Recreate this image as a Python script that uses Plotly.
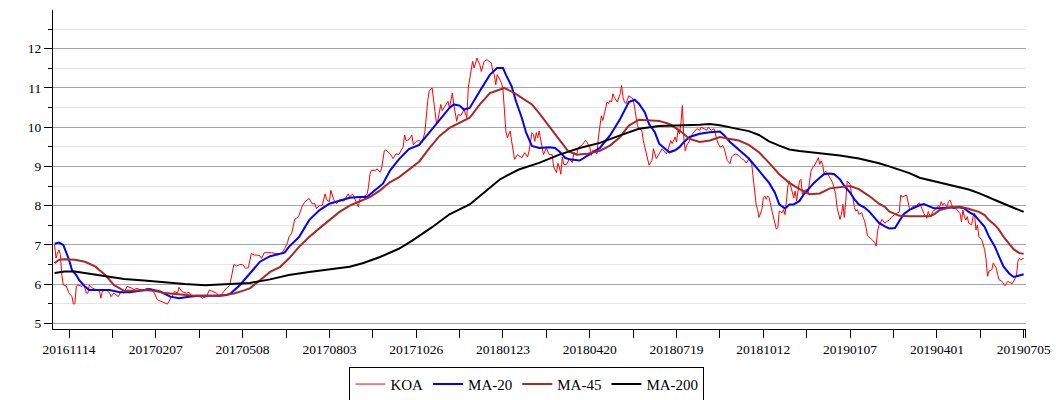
import plotly.graph_objects as go

# ---------------- data (trading-day index, value) ----------------
koa_day = [0, 1, 2, 3, 4, 5, 6, 8, 10, 12, 13, 14, 15, 16, 19, 20, 21, 22, 23, 24, 26, 29, 31, 32, 33, 36, 38, 39, 41, 44,
           46, 48, 50, 53, 55, 57, 59, 62, 64, 67, 69, 71, 74, 76, 78, 81, 83, 85, 86, 88, 91, 93, 95, 98, 100, 102, 105, 107, 109, 112,
           114, 116, 119, 121, 123, 124, 126, 128, 130, 132, 134, 136, 138, 140, 142, 143, 145, 148, 150, 153, 157, 159, 161, 162, 164, 166, 168, 169, 171, 173,
           175, 176, 178, 180, 181, 183, 185, 187, 188, 190, 191, 192, 193, 195, 197, 199, 200, 203, 204, 206, 209, 210, 211, 213, 214, 216, 217, 218, 219, 222,
           223, 225, 226, 228, 229, 232, 234, 236, 238, 241, 242, 243, 245, 247, 248, 250, 252, 254, 256, 257, 258, 259, 261, 263, 264, 265, 267, 268, 271, 272,
           273, 275, 276, 278, 279, 281, 283, 285, 286, 287, 288, 289, 290, 292, 294, 295, 297, 299, 302, 303, 304, 305, 306, 309, 310, 311, 312, 313, 315, 316,
           317, 318, 320, 323, 325, 327, 328, 330, 331, 332, 333, 334, 335, 337, 338, 340, 342, 344, 345, 347, 348, 349, 350, 351, 352, 354, 356, 357, 358, 359,
           361, 362, 365, 367, 368, 370, 371, 372, 375, 376, 377, 378, 379, 380, 382, 383, 384, 385, 386, 387, 388, 389, 391, 392, 393, 394, 395, 397, 400, 401,
           403, 404, 406, 407, 408, 409, 411, 413, 414, 416, 418, 420, 423, 424, 426, 427, 429, 430, 431, 432, 433, 434, 435, 436, 437, 439, 441, 444, 446, 447,
           449, 451, 452, 454, 456, 458, 460, 462, 463, 464, 465, 467, 468, 469, 471, 473, 475, 477, 478, 479, 480, 482, 483, 484, 485, 486, 487, 489, 490, 491,
           492, 493, 494, 496, 497, 498, 499, 500, 501, 503, 504, 505, 506, 507, 508, 510, 511, 512, 513, 515, 516, 517, 518, 520, 521, 522, 523, 524, 525, 527,
           528, 529, 530, 531, 532, 533, 534, 536, 538, 540, 541, 543, 544, 545, 546, 547, 548, 550, 551, 552, 553, 554, 555, 556, 558, 559, 560, 561, 562, 565,
           567, 568, 569, 570, 572, 574, 575, 577, 579, 582, 584, 585, 586, 589, 590, 591, 592, 593, 596, 598, 600, 601, 603, 604, 605, 606, 607, 610, 611, 612,
           613, 614, 615, 617, 618, 619, 620, 621, 623, 626, 627, 628, 629, 630, 631, 632, 634, 635, 636, 637, 638, 639, 641, 642, 643, 644, 645, 646, 648, 649,
           650, 651, 652, 653, 655, 657, 659, 662, 663, 665, 666, 667, 668, 670]
koa_val = [7.00, 6.66, 6.79, 6.87, 6.75, 6.23, 5.98, 5.95, 5.77, 5.68, 5.49, 5.50, 5.94, 5.98, 5.94, 5.98, 5.90, 5.77, 5.77, 5.98, 5.90, 5.86, 5.82, 5.64, 5.82, 5.85, 5.77, 5.68, 5.77, 5.68,
           5.81, 5.77, 5.94, 5.90, 5.86, 5.89, 5.86, 5.86, 5.89, 5.87, 5.77, 5.60, 5.56, 5.53, 5.49, 5.68, 5.81, 5.77, 5.92, 5.81, 5.77, 5.79, 5.68, 5.72, 5.70, 5.64, 5.68, 5.85, 5.81, 5.77,
           5.68, 5.77, 5.90, 5.96, 6.28, 6.50, 6.46, 6.50, 6.50, 6.40, 6.42, 6.78, 6.74, 6.74, 6.72, 6.65, 6.80, 6.80, 6.80, 6.78, 6.78, 6.90, 7.05, 7.20, 7.30, 7.65, 7.70, 7.75, 7.97, 8.10,
           8.15, 8.18, 8.05, 8.05, 7.92, 8.00, 8.00, 8.30, 8.15, 8.10, 8.39, 8.27, 8.15, 8.05, 8.15, 8.12, 8.12, 8.30, 8.22, 8.30, 8.05, 7.97, 8.18, 8.22, 8.22, 8.28, 8.47, 8.80, 8.90, 8.90,
           8.94, 8.85, 8.94, 9.40, 9.42, 9.32, 9.20, 9.32, 9.30, 9.50, 9.80, 9.66, 9.68, 9.80, 9.55, 9.64, 9.66, 9.60, 9.87, 10.40, 10.68, 10.92, 11.00, 10.40, 10.10, 10.18, 10.58, 10.42, 10.58, 10.66,
           10.49, 10.87, 10.58, 10.15, 10.32, 10.30, 10.45, 10.24, 11.00, 11.25, 11.42, 11.68, 11.51, 11.76, 11.59, 11.42, 11.68, 11.72, 11.63, 11.42, 11.34, 11.08, 11.34, 11.13, 10.96, 10.49, 9.90, 9.73, 9.90, 9.64,
           9.43, 9.18, 9.30, 9.22, 9.35, 9.24, 9.39, 9.86, 9.82, 9.64, 9.86, 9.73, 9.90, 9.56, 9.30, 9.47, 9.30, 9.30, 8.99, 8.84, 9.08, 8.98, 8.80, 9.24, 9.05, 9.05, 9.20, 9.14, 9.10, 9.35,
           9.32, 9.47, 9.56, 9.66, 9.62, 9.49, 9.28, 9.41, 9.32, 9.75, 10.08, 10.29, 10.17, 10.34, 10.64, 10.60, 10.68, 10.64, 10.85, 10.76, 10.68, 10.64, 10.85, 11.06, 10.76, 10.64, 10.60, 10.80, 10.72, 10.50,
           10.04, 9.96, 9.92, 9.66, 9.49, 9.36, 9.03, 9.15, 9.45, 9.20, 9.32, 9.45, 9.32, 9.41, 9.66, 9.58, 9.75, 9.62, 9.92, 9.83, 10.08, 10.55, 9.75, 9.40, 9.53, 9.66, 9.83, 9.96, 9.92, 10.00,
           9.96, 9.92, 10.00, 9.92, 9.96, 9.66, 9.49, 9.53, 9.45, 9.32, 9.15, 9.07, 9.24, 9.28, 9.32, 9.28, 9.20, 9.15, 9.09, 9.11, 9.22, 9.05, 8.71, 8.37, 8.03, 7.90, 7.70, 7.90, 8.20, 8.25,
           8.16, 8.25, 8.20, 7.86, 7.70, 7.52, 7.40, 7.44, 7.86, 7.82, 7.90, 7.77, 8.20, 8.50, 8.63, 8.37, 8.20, 8.37, 8.12, 8.63, 8.67, 8.29, 8.37, 8.41, 8.33, 8.63, 8.88, 8.97, 9.00, 9.14,
           9.22, 9.05, 9.14, 9.05, 8.80, 8.88, 8.84, 8.71, 8.58, 8.29, 7.95, 7.65, 7.78, 8.03, 7.70, 8.12, 8.63, 8.54, 8.29, 8.20, 7.95, 7.86, 7.90, 7.78, 7.82, 7.70, 7.61, 7.44, 7.23, 7.14,
           7.06, 6.97, 7.35, 7.50, 7.65, 7.55, 7.59, 7.63, 7.72, 7.80, 7.84, 8.27, 8.22, 8.27, 8.06, 7.93, 7.89, 7.97, 8.01, 8.07, 7.89, 7.80, 7.68, 7.85, 7.76, 7.72, 7.85, 7.93, 8.01, 7.97,
           8.10, 8.01, 8.06, 7.97, 8.10, 8.14, 8.06, 7.93, 7.93, 7.80, 7.59, 7.89, 7.72, 7.63, 7.72, 7.55, 7.51, 7.72, 7.80, 7.38, 7.51, 7.21, 7.13, 7.00, 6.88, 6.62, 6.20, 6.33, 6.37, 6.54,
           6.45, 6.41, 6.24, 6.11, 6.07, 5.96, 6.07, 6.01, 6.07, 6.20, 6.58, 6.66, 6.62, 6.66]

ma20_day = [0, 3, 6, 8, 10, 12, 15, 17, 21, 24, 31, 38, 45, 52, 59, 66, 73, 80, 86, 93, 100, 107, 114, 119, 122, 128,
            135, 142, 149, 156, 159, 162, 169, 176, 183, 190, 197, 204, 211, 216, 220, 227, 232, 238, 245, 252, 259, 266, 273,
            276, 280, 283, 287, 294, 301, 306, 310, 312, 316, 319, 323, 326, 330, 335, 342, 346, 349, 353, 356, 363, 370, 377,
            384, 391, 397, 401, 404, 408, 411, 415, 418, 422, 425, 429, 432, 435, 439, 446, 453, 460, 463, 467, 473, 480, 487,
            494, 498, 501, 505, 508, 511, 515, 518, 522, 525, 529, 532, 536, 539, 543, 546, 550, 553, 556, 560, 563, 567, 570,
            574, 577, 581, 584, 587, 591, 594, 598, 601, 605, 608, 612, 619, 626, 629, 632, 636, 639, 643, 646, 650, 653, 656,
            660, 663, 667, 670]
ma20_val = [7.03, 7.06, 7.00, 6.83, 6.62, 6.36, 6.23, 6.10, 5.94, 5.85, 5.85, 5.85, 5.79, 5.79, 5.83, 5.87, 5.81, 5.68, 5.64, 5.68, 5.70, 5.70, 5.70, 5.72, 5.77, 5.97,
            6.27, 6.57, 6.71, 6.78, 6.80, 6.95, 7.20, 7.63, 7.88, 8.05, 8.12, 8.20, 8.22, 8.22, 8.35, 8.56, 8.90, 9.18, 9.44, 9.55, 9.86, 10.19, 10.49,
            10.58, 10.55, 10.45, 10.49, 10.92, 11.34, 11.51, 11.51, 11.34, 11.04, 10.66, 10.24, 9.86, 9.52, 9.47, 9.49, 9.47, 9.38, 9.22, 9.18, 9.15, 9.32, 9.47,
            9.79, 10.21, 10.64, 10.70, 10.60, 10.38, 10.08, 9.87, 9.58, 9.45, 9.36, 9.41, 9.49, 9.62, 9.75, 9.83, 9.87, 9.89, 9.79, 9.62, 9.42, 9.20, 8.89,
            8.58, 8.33, 8.03, 7.93, 8.03, 8.03, 8.12, 8.29, 8.46, 8.58, 8.71, 8.80, 8.82, 8.80, 8.67, 8.50, 8.33, 8.16, 8.03, 7.95, 7.86, 7.70, 7.56,
            7.47, 7.42, 7.43, 7.59, 7.78, 7.89, 7.95, 8.01, 8.04, 7.97, 7.93, 7.93, 7.95, 7.95, 7.93, 7.84, 7.76, 7.63, 7.46, 7.21, 6.96, 6.70, 6.45,
            6.27, 6.18, 6.22, 6.25]

ma45_day = [0, 3, 7, 14, 21, 28, 35, 41, 48, 55, 62, 69, 76, 83, 90, 97, 104, 111, 118, 124, 131, 135, 142, 149, 156, 162,
            169, 176, 183, 190, 197, 204, 211, 218, 225, 232, 238, 245, 252, 259, 266, 273, 280, 287, 294, 301, 308, 311, 318,
            325, 330, 335, 342, 349, 355, 361, 368, 377, 384, 391, 397, 404, 411, 418, 425, 432, 439, 446, 453, 460, 467, 473,
            480, 487, 494, 501, 508, 515, 522, 529, 536, 543, 550, 556, 563, 570, 574, 577, 581, 584, 591, 598, 605, 608, 612,
            619, 626, 632, 639, 643, 646, 650, 653, 656, 660, 663, 667, 670]
ma45_val = [6.53, 6.62, 6.63, 6.62, 6.57, 6.45, 6.23, 5.98, 5.83, 5.83, 5.85, 5.83, 5.77, 5.75, 5.72, 5.70, 5.70, 5.70, 5.72, 5.76, 5.84, 5.89, 6.10, 6.31, 6.44, 6.65,
            6.95, 7.20, 7.42, 7.63, 7.84, 8.00, 8.12, 8.22, 8.39, 8.60, 8.72, 8.91, 9.12, 9.46, 9.77, 9.98, 10.10, 10.24, 10.58, 10.87, 10.96, 11.00, 10.87,
            10.70, 10.58, 10.36, 10.03, 9.69, 9.39, 9.30, 9.32, 9.40, 9.53, 9.75, 10.04, 10.19, 10.17, 10.16, 10.08, 9.92, 9.70, 9.62, 9.66, 9.75, 9.70, 9.66,
            9.55, 9.36, 9.09, 8.80, 8.58, 8.42, 8.29, 8.31, 8.44, 8.47, 8.50, 8.42, 8.25, 8.05, 7.97, 7.85, 7.78, 7.74, 7.73, 7.73, 7.73, 7.78, 7.89,
            7.95, 7.97, 7.92, 7.84, 7.76, 7.63, 7.51, 7.38, 7.21, 7.04, 6.89, 6.79, 6.77]

ma200_day = [0, 7, 14, 21, 28, 35, 41, 48, 62, 76, 90, 104, 118, 128, 135, 149, 162, 176, 190, 204, 213, 225, 238, 247, 261,
             273, 287, 301, 308, 315, 321, 335, 349, 363, 377, 391, 404, 418, 432, 446, 453, 460, 473, 480, 487, 494, 501, 508,
             515, 529, 543, 556, 563, 570, 577, 584, 591, 598, 605, 612, 619, 626, 632, 639, 646, 653, 660, 667, 670]
ma200_val = [6.28, 6.32, 6.32, 6.28, 6.23, 6.20, 6.17, 6.13, 6.09, 6.04, 6.00, 5.97, 5.99, 6.01, 6.03, 6.12, 6.23, 6.31, 6.37, 6.44, 6.53, 6.69, 6.90, 7.10, 7.45,
             7.78, 8.03, 8.46, 8.67, 8.81, 8.92, 9.09, 9.30, 9.47, 9.60, 9.79, 9.96, 10.03, 10.04, 10.06, 10.08, 10.05, 9.95, 9.90, 9.80, 9.64, 9.53, 9.43,
             9.39, 9.33, 9.28, 9.20, 9.14, 9.08, 9.00, 8.92, 8.83, 8.71, 8.65, 8.60, 8.54, 8.48, 8.41, 8.32, 8.22, 8.10, 7.99, 7.89, 7.84]

tick_day = [10, 70, 130, 190, 250, 310, 370, 430, 490, 550, 610, 670]
tick_label = ['20161114', '20170207', '20170508', '20170803', '20171026', '20180123',
              '20180420', '20180719', '20181012', '20190107', '20190401', '20190705']
minor_tick_day = [40, 100, 160, 220, 280, 340, 400, 460, 520, 580, 640, 671.5]
y_ticks = [5, 6, 7, 8, 9, 10, 11, 12]

series = [
    ('KOA', koa_day, koa_val, '#ff0000', 1),
    ('MA-20', ma20_day, ma20_val, '#0000ff', 2),
    ('MA-45', ma45_day, ma45_val, '#a52a2a', 2),
    ('MA-200', ma200_day, ma200_val, '#000000', 2),
]

fig = go.Figure()
for name, xs, ys, col, w in series:
    fig.add_trace(go.Scatter(x=xs, y=ys, mode='lines', name=name,
                             line=dict(color=col, width=w)))

fig.update_layout(
    width=1056, height=400,
    margin=dict(l=53.4, r=29.5, t=9.5, b=71, pad=0, autoexpand=False),
    plot_bgcolor='white', paper_bgcolor='white',
    font=dict(family='Liberation Serif', size=13.5, color='#000000'),
    showlegend=True,
    legend=dict(orientation='h', xref='container', yref='container',
                x=0.499, y=0.083, xanchor='center', yanchor='top',
                bordercolor='#000000', borderwidth=1, bgcolor='white',
                font=dict(family='Liberation Serif', size=15, color='#000000'),
                itemwidth=30, tracegroupgap=0),
    xaxis=dict(range=[-1.1, 671.6], showgrid=False, zeroline=False,
               showline=True, linecolor='#000000', linewidth=1,
               ticks='outside', ticklen=8, tickcolor='#000000', tickwidth=1,
               tickmode='array', tickvals=tick_day, ticktext=tick_label,
               minor=dict(tickmode='array', tickvals=minor_tick_day, ticks='outside',
                          ticklen=8, tickcolor='#000000', tickwidth=1, showgrid=False)),
    yaxis=dict(range=[4.855, 12.987], zeroline=False,
               showline=True, linecolor='#000000', linewidth=1,
               ticks='outside', ticklen=8, tickcolor='#000000', tickwidth=1,
               tickmode='array', tickvals=y_ticks,
               showgrid=True, gridcolor='#a6a6a6', gridwidth=1,
               minor=dict(dtick=0.5, ticks='outside', ticklen=4, tickcolor='#000000',
                          tickwidth=1, showgrid=True, gridcolor='#e6e6e6', gridwidth=1)),
)

fig.write_html('out.html', config={'displayModeBar': False},
               post_script="document.body.style.margin='0px';document.body.style.overflow='hidden';")
